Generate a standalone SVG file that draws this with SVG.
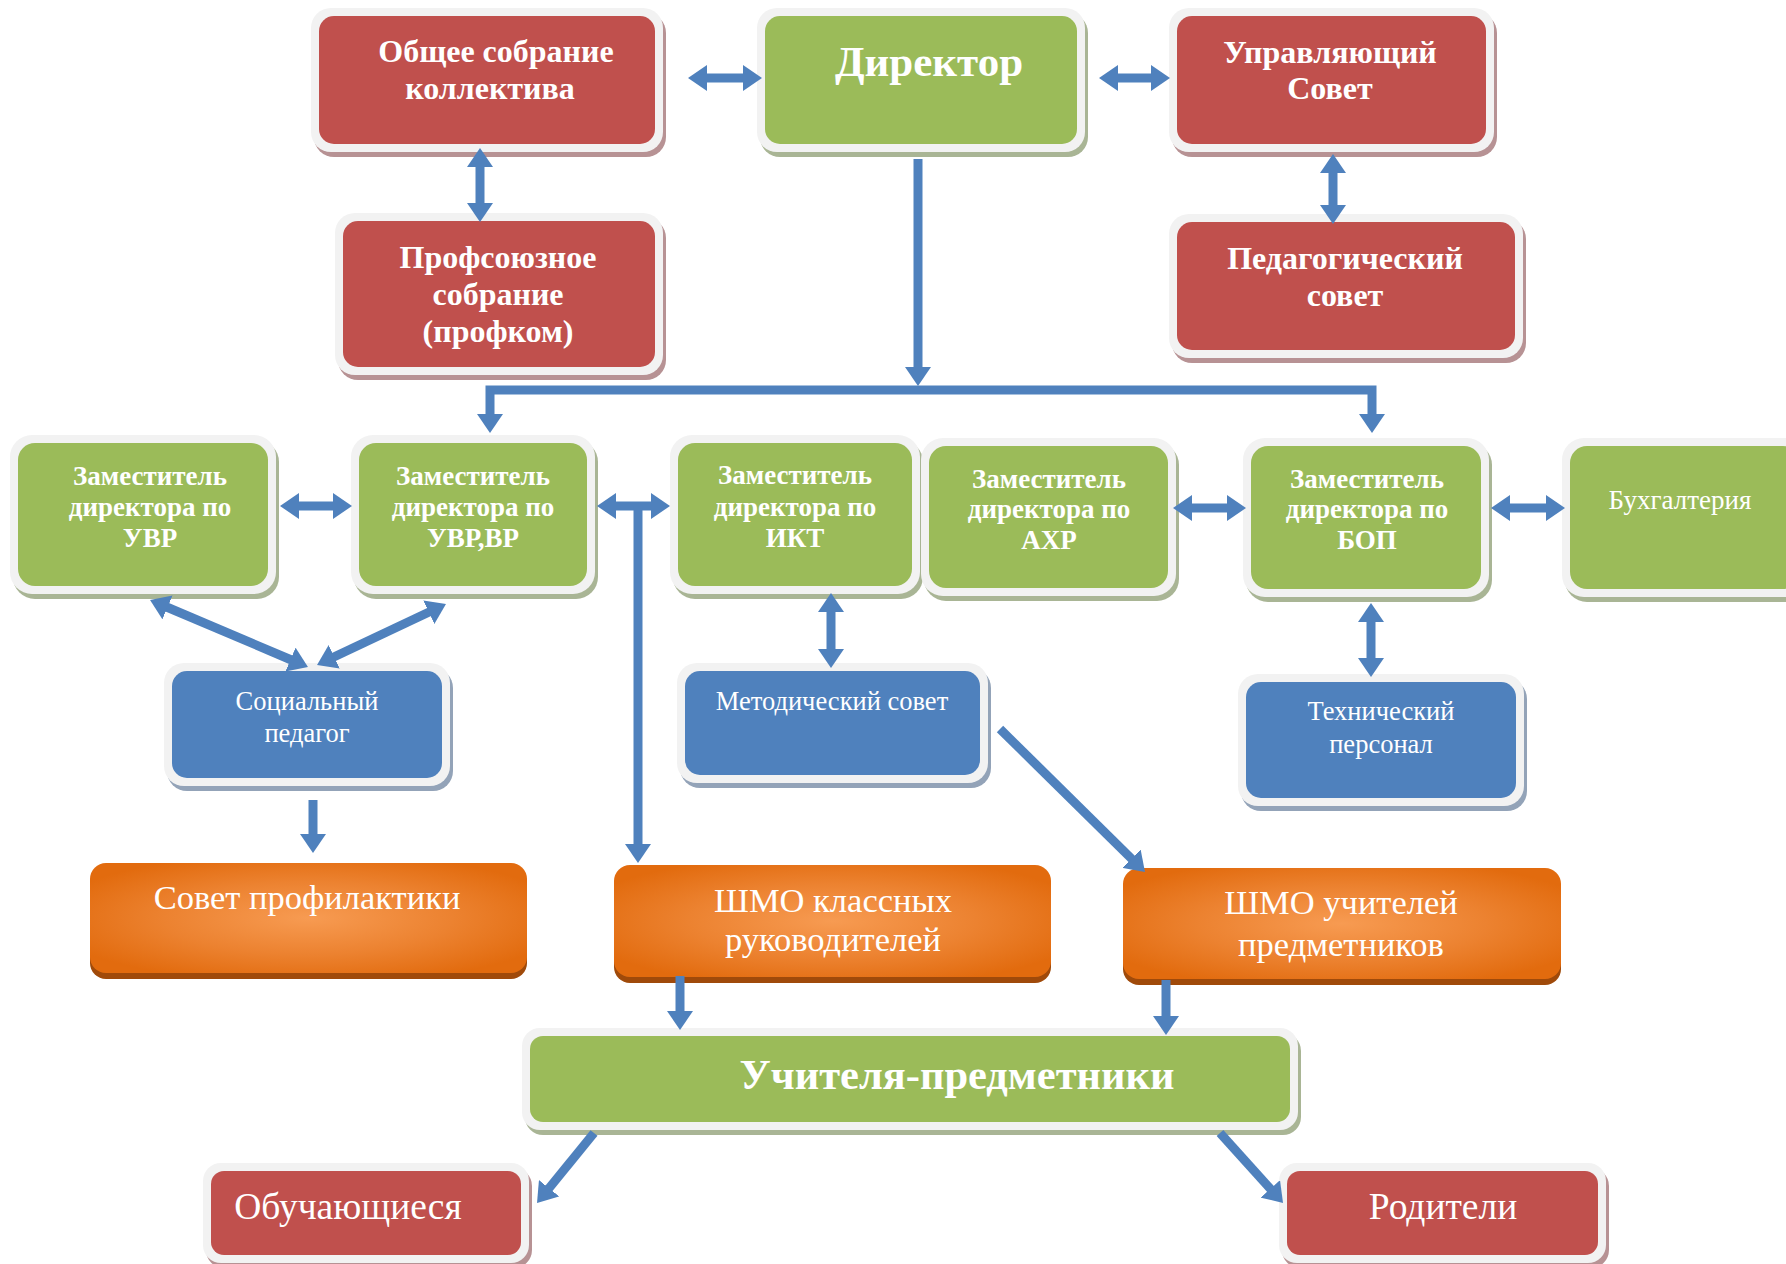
<svg xmlns="http://www.w3.org/2000/svg" width="1786" height="1264" viewBox="0 0 1786 1264">
<style>
.frame{fill:#f2f2f2}
.sh-r{fill:#b79294}
.sh-g{fill:#a9b595}
.sh-b{fill:#93a3b8}
.red{fill:#c0504d}
.green{fill:#9bbb59}
.blue{fill:#4f81bd}
.orange{fill:url(#og)}
.osh{fill:#a04a0a}
text{font-family:"Liberation Serif","Times New Roman",serif;fill:#ffffff;text-anchor:middle}
.b{font-weight:bold}
.con{stroke:#4f81bd;stroke-width:9;fill:none;stroke-linejoin:miter}
.one{marker-end:url(#ah)}
.two{marker-start:url(#ah);marker-end:url(#ah)}
</style>
<defs>
<marker id="ah" markerUnits="userSpaceOnUse" markerWidth="20" markerHeight="26" viewBox="0 0 20 26" refX="1" refY="13" orient="auto-start-reverse">
<path d="M0,0 L19,13 L0,26 Z" fill="#4f81bd"/>
</marker>
<radialGradient id="og" cx="0.5" cy="0.5" r="0.6">
<stop offset="0" stop-color="#f79b52"/>
<stop offset="0.55" stop-color="#ec8230"/>
<stop offset="1" stop-color="#e26b0e"/>
</radialGradient>
</defs>

<g id="node-obshchee">
<rect class="sh-r" x="314" y="13" width="352" height="144" rx="20"/>
<rect class="frame" x="311" y="8" width="352" height="144" rx="20"/>
<rect class="red" x="319" y="16" width="336" height="128" rx="15"/>
<text class="b" x="496" y="62" font-size="32">Общее собрание</text>
<text class="b" x="490" y="99" font-size="32">коллектива</text>
</g>

<g id="node-director">
<rect class="sh-g" x="760" y="13" width="328" height="144" rx="20"/>
<rect class="frame" x="757" y="8" width="328" height="144" rx="20"/>
<rect class="green" x="765" y="16" width="312" height="128" rx="15"/>
<text class="b" x="929" y="76" font-size="43">Директор</text>
</g>

<g id="node-upravl">
<rect class="sh-r" x="1172" y="13" width="325" height="144" rx="20"/>
<rect class="frame" x="1169" y="8" width="325" height="144" rx="20"/>
<rect class="red" x="1177" y="16" width="309" height="128" rx="15"/>
<text class="b" x="1330" y="63" font-size="32">Управляющий</text>
<text class="b" x="1330" y="99" font-size="32">Совет</text>
</g>

<g id="node-profsoyuz">
<rect class="sh-r" x="338" y="218" width="328" height="162" rx="20"/>
<rect class="frame" x="335" y="213" width="328" height="162" rx="20"/>
<rect class="red" x="343" y="221" width="312" height="146" rx="15"/>
<text class="b" x="498" y="268" font-size="32">Профсоюзное</text>
<text class="b" x="498" y="305" font-size="32">собрание</text>
<text class="b" x="498" y="342" font-size="32">(профком)</text>
</g>

<g id="node-pedsovet">
<rect class="sh-r" x="1172" y="219" width="354" height="144" rx="20"/>
<rect class="frame" x="1169" y="214" width="354" height="144" rx="20"/>
<rect class="red" x="1177" y="222" width="338" height="128" rx="15"/>
<text class="b" x="1345" y="269" font-size="32">Педагогический</text>
<text class="b" x="1345" y="306" font-size="32">совет</text>
</g>

<g id="node-zam-uvr">
<rect class="sh-g" x="13" y="440" width="266" height="159" rx="22"/>
<rect class="frame" x="10" y="435" width="266" height="159" rx="22"/>
<rect class="green" x="18" y="443" width="250" height="143" rx="17"/>
<text class="b" x="150" y="485" font-size="27">Заместитель</text>
<text class="b" x="150" y="516" font-size="27">директора по</text>
<text class="b" x="150" y="547" font-size="27">УВР</text>
</g>

<g id="node-zam-uvr-vr">
<rect class="sh-g" x="354" y="440" width="244" height="159" rx="22"/>
<rect class="frame" x="351" y="435" width="244" height="159" rx="22"/>
<rect class="green" x="359" y="443" width="228" height="143" rx="17"/>
<text class="b" x="473" y="485" font-size="27">Заместитель</text>
<text class="b" x="473" y="516" font-size="27">директора по</text>
<text class="b" x="473" y="547" font-size="27">УВР,ВР</text>
</g>

<g id="node-zam-ikt">
<rect class="sh-g" x="673" y="440" width="250" height="159" rx="22"/>
<rect class="frame" x="670" y="435" width="250" height="159" rx="22"/>
<rect class="green" x="678" y="443" width="234" height="143" rx="17"/>
<text class="b" x="795" y="484" font-size="27">Заместитель</text>
<text class="b" x="795" y="516" font-size="27">директора по</text>
<text class="b" x="795" y="547" font-size="27">ИКТ</text>
</g>

<g id="node-zam-ahr">
<rect class="sh-g" x="924" y="443" width="255" height="158" rx="22"/>
<rect class="frame" x="921" y="438" width="255" height="158" rx="22"/>
<rect class="green" x="929" y="446" width="239" height="142" rx="17"/>
<text class="b" x="1049" y="488" font-size="27">Заместитель</text>
<text class="b" x="1049" y="518" font-size="27">директора по</text>
<text class="b" x="1049" y="549" font-size="27">АХР</text>
</g>

<g id="node-zam-bop">
<rect class="sh-g" x="1246" y="443" width="246" height="159" rx="22"/>
<rect class="frame" x="1243" y="438" width="246" height="159" rx="22"/>
<rect class="green" x="1251" y="446" width="230" height="143" rx="17"/>
<text class="b" x="1367" y="488" font-size="27">Заместитель</text>
<text class="b" x="1367" y="518" font-size="27">директора по</text>
<text class="b" x="1367" y="549" font-size="27">БОП</text>
</g>

<g id="node-buh">
<rect class="sh-g" x="1565" y="443" width="246" height="159" rx="22"/>
<rect class="frame" x="1562" y="438" width="246" height="159" rx="22"/>
<rect class="green" x="1570" y="446" width="230" height="143" rx="17"/>
<text x="1680" y="509" font-size="27">Бухгалтерия</text>
</g>

<g id="node-socped">
<rect class="sh-b" x="167" y="668" width="286" height="123" rx="20"/>
<rect class="frame" x="164" y="663" width="286" height="123" rx="20"/>
<rect class="blue" x="172" y="671" width="270" height="107" rx="15"/>
<text x="307" y="710" font-size="26.5">Социальный</text>
<text x="307" y="742" font-size="26.5">педагог</text>
</g>

<g id="node-metod">
<rect class="sh-b" x="680" y="668" width="311" height="120" rx="20"/>
<rect class="frame" x="677" y="663" width="311" height="120" rx="20"/>
<rect class="blue" x="685" y="671" width="295" height="104" rx="15"/>
<text x="832" y="710" font-size="26.5">Методический совет</text>
</g>

<g id="node-tech">
<rect class="sh-b" x="1241" y="679" width="286" height="132" rx="20"/>
<rect class="frame" x="1238" y="674" width="286" height="132" rx="20"/>
<rect class="blue" x="1246" y="682" width="270" height="116" rx="15"/>
<text x="1381" y="720" font-size="26.5">Технический</text>
<text x="1381" y="753" font-size="26.5">персонал</text>
</g>

<g id="node-sovet-prof">
<rect class="osh" x="90" y="869" width="437" height="110" rx="16"/>
<rect class="orange" x="90" y="863" width="437" height="110" rx="16"/>
<text x="307" y="909" font-size="34.5">Совет профилактики</text>
</g>

<g id="node-shmo-kl">
<rect class="osh" x="614" y="871" width="437" height="112" rx="16"/>
<rect class="orange" x="614" y="865" width="437" height="112" rx="16"/>
<text x="833" y="912" font-size="34.5">ШМО классных</text>
<text x="833" y="951" font-size="34.5">руководителей</text>
</g>

<g id="node-shmo-uch">
<rect class="osh" x="1123" y="874" width="438" height="111" rx="16"/>
<rect class="orange" x="1123" y="868" width="438" height="111" rx="16"/>
<text x="1341" y="914" font-size="34.5">ШМО учителей</text>
<text x="1341" y="956" font-size="34.5">предметников</text>
</g>

<g id="node-uchitelya">
<rect class="sh-g" x="525" y="1033" width="776" height="102" rx="18"/>
<rect class="frame" x="522" y="1028" width="776" height="102" rx="18"/>
<rect class="green" x="530" y="1036" width="760" height="86" rx="13"/>
<text class="b" x="957" y="1089" font-size="42.5">Учителя-предметники</text>
</g>

<g id="node-obuch">
<rect class="sh-r" x="206" y="1168" width="326" height="100" rx="18"/>
<rect class="frame" x="203" y="1163" width="326" height="100" rx="18"/>
<rect class="red" x="211" y="1171" width="310" height="84" rx="13"/>
<text x="348" y="1219" font-size="37.5">Обучающиеся</text>
</g>

<g id="node-roditeli">
<rect class="sh-r" x="1282" y="1168" width="327" height="100" rx="18"/>
<rect class="frame" x="1279" y="1163" width="327" height="100" rx="18"/>
<rect class="red" x="1287" y="1171" width="311" height="84" rx="13"/>
<text x="1443" y="1219" font-size="37.5">Родители</text>
</g>

<g id="connectors">
<line class="con two" x1="706" y1="78" x2="744" y2="78"/>
<line class="con two" x1="1117" y1="78" x2="1152" y2="78"/>
<line class="con two" x1="480" y1="166" x2="480" y2="204"/>
<line class="con two" x1="1333" y1="172" x2="1333" y2="206"/>
<line class="con one" x1="918" y1="159" x2="918" y2="368"/>
<path class="con two" d="M490,415 L490,390 L1372,390 L1372,415"/>
<line class="con two" x1="298" y1="506" x2="334" y2="506"/>
<line class="con two" x1="615" y1="506" x2="652" y2="506"/>
<line class="con one" x1="638" y1="506" x2="638" y2="845"/>
<line class="con two" x1="166.6" y1="607" x2="291.4" y2="660"/>
<line class="con two" x1="429.7" y1="611.7" x2="333.3" y2="657.3"/>
<line class="con one" x1="313" y1="800" x2="313" y2="835"/>
<line class="con two" x1="831" y1="611" x2="831" y2="650"/>
<line class="con two" x1="1371" y1="621" x2="1371" y2="659"/>
<line class="con two" x1="1191" y1="508" x2="1228" y2="508"/>
<line class="con two" x1="1509" y1="508" x2="1547" y2="508"/>
<line class="con one" x1="1000" y1="729" x2="1132.2" y2="859.4"/>
<line class="con one" x1="680" y1="976" x2="680" y2="1012"/>
<line class="con one" x1="1166" y1="980" x2="1166" y2="1017"/>
<line class="con one" x1="594" y1="1133" x2="548.4" y2="1189"/>
<line class="con one" x1="1220" y1="1133" x2="1271" y2="1189.6"/>
</g>
</svg>
